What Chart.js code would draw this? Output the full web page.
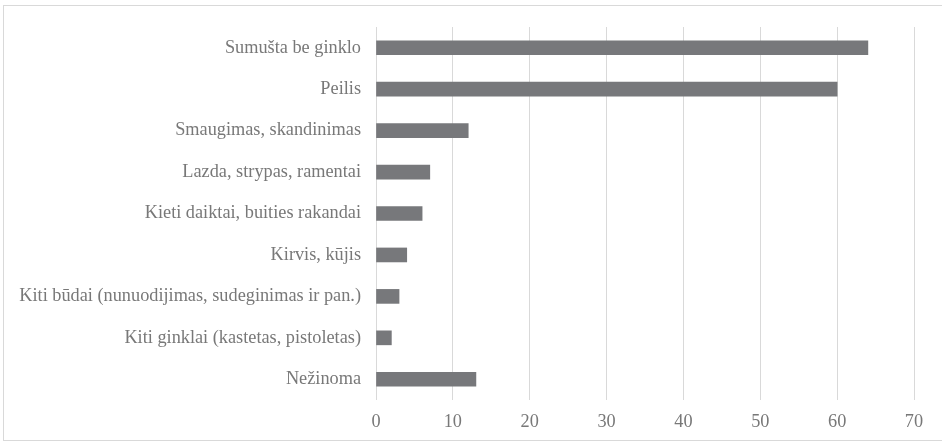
<!DOCTYPE html>
<html>
<head>
<meta charset="utf-8">
<script src="https://cdn.jsdelivr.net/npm/chart.js"></script>
<style>
  html, body { margin: 0; padding: 0; background: #fff; }
  #wrap { position: relative; width: 942px; height: 442px; }
</style>
</head>
<body>
<div id="wrap"><canvas id="chart" width="942" height="442"></canvas></div>
<script>
const categories = [
    "Sumušta be ginklo",
    "Peilis",
    "Smaugimas, skandinimas",
    "Lazda, strypas, ramentai",
    "Kieti daiktai, buities rakandai",
    "Kirvis, kūjis",
    "Kiti būdai (nunuodijimas, sudeginimas ir pan.)",
    "Kiti ginklai (kastetas, pistoletas)",
    "Nežinoma"
];
const values = [64, 60, 12, 7, 6, 4, 3, 2, 13];
const xMin = 0, xMax = 70, xStep = 10;

const textColor = "#787878";
const fontFamily = "'Times New Roman', 'Liberation Serif', serif";

// рамка вокруг всей диаграммы
const frame = {
    id: "frame",
    beforeDraw(chart) {
        const c = chart.ctx;
        c.save();
        c.fillStyle = "#fff";
        c.fillRect(0, 0, chart.width, chart.height);
        c.strokeStyle = "#d9d9d9";
        c.lineWidth = 1;
        c.strokeRect(3.5, 5.5, chart.width, chart.height - 7);
        c.restore();
    }
};

Chart.defaults.font.family = fontFamily;

new Chart(document.getElementById("chart").getContext("2d"), {
    type: "bar",
    data: {
        labels: categories,
        datasets: [{
            data: values,
            backgroundColor: "#77787b",
            borderWidth: 0,
            barThickness: 14
        }]
    },
    options: {
        indexAxis: "y",
        responsive: false,
        animation: false,
        layout: { padding: { top: 27, right: 28, bottom: 0, left: 0 } },
        plugins: {
            legend: { display: false },
            title: { display: false },
            tooltip: { enabled: false }
        },
        scales: {
            x: {
                min: xMin,
                max: xMax,
                grid: { color: "#d9d9d9", lineWidth: 1, drawTicks: false },
                border: { display: false },
                ticks: {
                    stepSize: xStep,
                    padding: 11,
                    color: textColor,
                    font: { family: fontFamily, size: 18.3 }
                },
                afterFit(scale) { scale.height = 42; }
            },
            y: {
                grid: { display: false, drawTicks: false },
                border: { display: false },
                ticks: {
                    padding: 15,
                    color: textColor,
                    font: { family: fontFamily, size: 18.3 }
                },
                afterFit(scale) { scale.width = 376; }
            }
        }
    },
    plugins: [frame]
});
</script>
</body>
</html>
